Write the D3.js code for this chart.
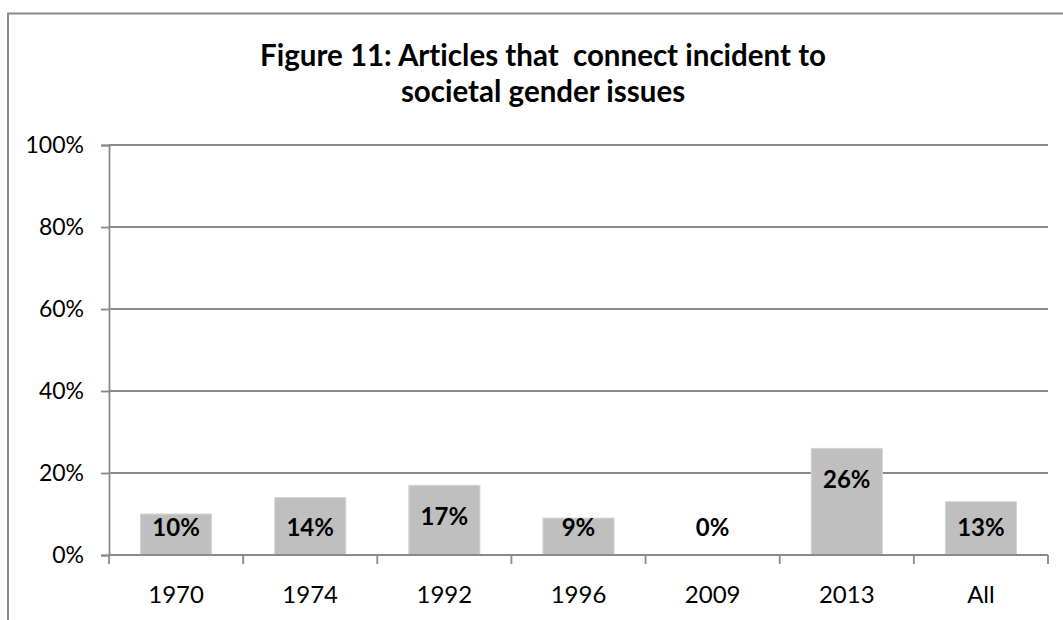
<!DOCTYPE html>
<html lang="en">
<head>
    <meta charset="UTF-8">
    <title>Figure 11: Articles that connect incident to societal gender issues</title>
    <script src="https://d3js.org/d3.v7.min.js"></script>
    <style>
        body {
            margin: 0;
            padding: 0;
            background-color: #fff;
            font-family: Lato, "Open Sans", Arial, sans-serif;
        }
        svg text {
            font-variant-ligatures: none;
            font-feature-settings: "liga" 0, "clig" 0, "dlig" 0;
        }
        .title {
            font-weight: bold;
            font-size: 29.5px;
            white-space: pre;
        }
    </style>
</head>
<body>
    <div id="chart"></div>
    <script>
        // chart data
        const titleLines = ["Figure 11: Articles that  connect incident to", "societal gender issues"];
        const categories = ["1970", "1974", "1992", "1996", "2009", "2013", "All"];
        const values = [0.10, 0.14, 0.17, 0.09, 0.00, 0.26, 0.13];
        const valueLabels = ["10%", "14%", "17%", "9%", "0%", "26%", "13%"];
        const yTicks = [0, 0.2, 0.4, 0.6, 0.8, 1.0];

        const width = 1063, height = 620;
        const plot = { left: 109, right: 1048, top: 145, bottom: 555 };
        const gray = "#8a8a8a";

        const svg = d3.select("#chart")
            .append("svg")
            .attr("width", width)
            .attr("height", height);

        // outer chart border (runs off the picture at right and bottom)
        svg.append("rect")
            .attr("x", 8).attr("y", 13.5)
            .attr("width", 1100).attr("height", 700)
            .attr("fill", "none")
            .attr("stroke", gray)
            .attr("stroke-width", 2);

        // title
        svg.append("text")
            .attr("class", "title")
            .attr("text-anchor", "middle")
            .selectAll("tspan")
            .data(titleLines)
            .join("tspan")
            .attr("x", 543)
            .attr("y", (d, i) => 66 + i * 36)
            .text(d => d);

        const x = d3.scaleBand()
            .domain(categories)
            .range([plot.left, plot.right])
            .paddingInner(0.47)
            .paddingOuter(0.235);

        const y = d3.scaleLinear()
            .domain([0, 1])
            .range([plot.bottom, plot.top]);

        // gridlines
        svg.append("g")
            .selectAll("line")
            .data(yTicks.filter(d => d > 0))
            .join("line")
            .attr("x1", plot.left).attr("x2", plot.right)
            .attr("y1", d => y(d)).attr("y2", d => y(d))
            .attr("stroke", gray)
            .attr("stroke-width", 1.8);

        // y axis
        const yAxis = svg.append("g")
            .attr("transform", `translate(${plot.left},0)`)
            .call(d3.axisLeft(y).tickValues(yTicks).tickFormat(d3.format(".0%")).tickSize(8).tickPadding(17));
        yAxis.select(".domain").attr("stroke", gray).attr("stroke-width", 1.8);
        yAxis.selectAll(".tick line").attr("stroke", gray).attr("stroke-width", 1.8);
        yAxis.selectAll(".tick text")
            .attr("font-family", "Lato, sans-serif")
            .attr("font-size", 23)
            .attr("fill", "#000");

        // bars
        svg.append("g")
            .selectAll("rect")
            .data(values)
            .join("rect")
            .attr("x", (d, i) => x(categories[i]))
            .attr("y", d => y(d))
            .attr("width", x.bandwidth())
            .attr("height", d => y(0) - y(d))
            .attr("fill", "#bfbfbf")
            .attr("stroke", "#d4d4d4")
            .attr("stroke-width", 1);

        // x axis line with ticks at band edges
        const xAxis = svg.append("g");
        xAxis.append("line")
            .attr("x1", plot.left).attr("x2", plot.right)
            .attr("y1", y(0)).attr("y2", y(0))
            .attr("stroke", gray)
            .attr("stroke-width", 1.8);
        const edges = categories.map(c => x(c) - x.step() * x.paddingInner() / 2).concat([plot.right]);
        xAxis.selectAll("line.tick")
            .data(edges)
            .join("line")
            .attr("class", "tick")
            .attr("x1", d => d).attr("x2", d => d)
            .attr("y1", y(0)).attr("y2", y(0) + 9)
            .attr("stroke", gray)
            .attr("stroke-width", 1.8);
        xAxis.selectAll("text")
            .data(categories)
            .join("text")
            .attr("x", d => x(d) + x.bandwidth() / 2)
            .attr("y", 603)
            .attr("text-anchor", "middle")
            .attr("font-size", 24)
            .attr("fill", "#000")
            .text(d => d);

        // data labels, inside end of bar, kept above the axis
        svg.append("g")
            .selectAll("text")
            .data(values)
            .join("text")
            .attr("x", (d, i) => x(categories[i]) + x.bandwidth() / 2)
            .attr("y", d => Math.min(y(d) + 31, y(0) - 27))
            .attr("dy", "0.35em")
            .attr("text-anchor", "middle")
            .attr("font-size", 24)
            .attr("font-weight", "bold")
            .attr("fill", "#000")
            .text((d, i) => valueLabels[i]);
    </script>
</body>
</html>
